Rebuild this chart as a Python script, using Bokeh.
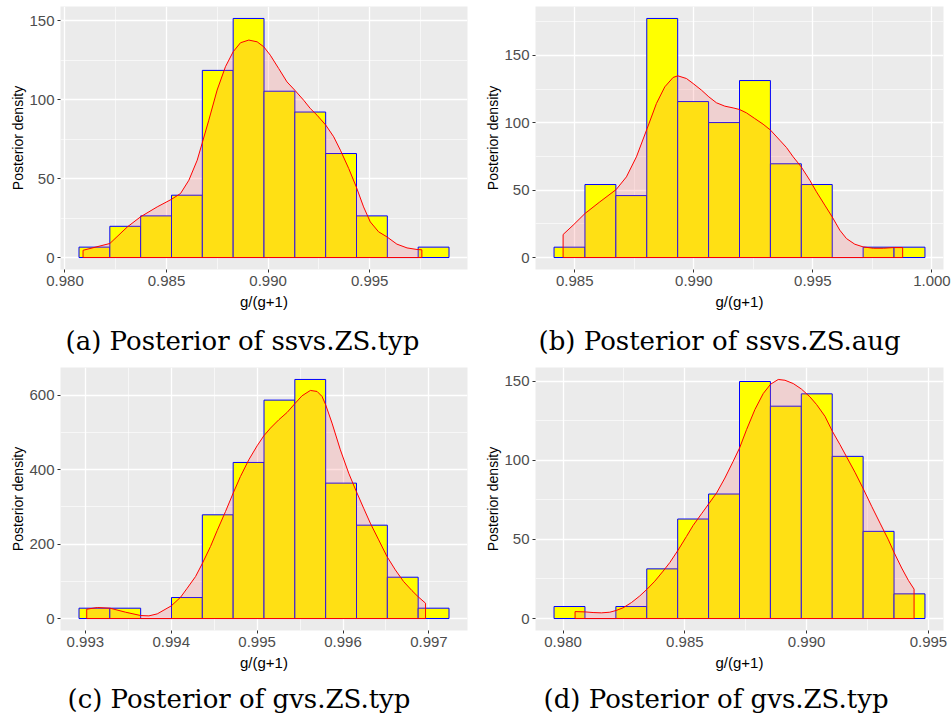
from bokeh.plotting import figure
from bokeh.models import Range1d, FixedTicker, NumeralTickFormatter, Title
from bokeh.layouts import row, column
from bokeh.embed import file_html
from bokeh.resources import INLINE

# ---------------- data ----------------
# (a) ssvs.ZS.typ
a_bin_start = 0.98069
a_bin_width = 0.001518
a_hist = [6.6, 19.8, 26.4, 39.5, 118.6, 151.5, 105.4, 92.2, 65.9, 26.4, 0.0, 6.6]
a_dens_x = [0.98089, 0.98221, 0.98307, 0.98372, 0.98454, 0.98523, 0.98569, 0.98610, 0.98651, 0.98675,
            0.98708, 0.98749, 0.98790, 0.98828, 0.98864, 0.98905, 0.98946, 0.98979, 0.99011, 0.99052,
            0.99093, 0.99131, 0.99175, 0.99208, 0.99241, 0.99284, 0.99323, 0.99356, 0.99397, 0.99434,
            0.99470, 0.99503, 0.99544, 0.99585, 0.99634, 0.99684, 0.99733, 0.99757]
a_dens_y = [4.6, 8.9, 19.4, 25.8, 32.1, 36.8, 40.6, 49.0, 61.7, 72.3,
            87.0, 106.1, 120.9, 130.4, 136.1, 137.8, 136.7, 133.5, 128.2, 119.8,
            111.3, 106.1, 99.7, 94.4, 90.2, 83.9, 76.5, 68.0, 56.4, 44.8,
            32.1, 22.6, 16.3, 13.1, 8.5, 6.1, 5.1, 4.9]
a_xticks = [0.980, 0.985, 0.990, 0.995]
a_yticks = [0, 50, 100, 150]
a_caption = "(a) Posterior of ssvs.ZS.typ"

# (b) ssvs.ZS.aug
b_bin_start = 0.98413
b_bin_width = 0.001298
b_hist = [7.7, 54.2, 46.0, 177.5, 115.8, 100.2, 131.4, 69.6, 54.2, 0.0, 7.7, 7.7]
b_dens_x = [0.98451, 0.98493, 0.98543, 0.98605, 0.98674, 0.98717, 0.98759, 0.98804, 0.98843, 0.98878,
            0.98913, 0.98933, 0.98969, 0.98997, 0.99032, 0.99063, 0.99095, 0.99130, 0.99165, 0.99192,
            0.99221, 0.99256, 0.99291, 0.99322, 0.99361, 0.99389, 0.99417, 0.99451, 0.99487, 0.99515,
            0.99550, 0.99581, 0.99613, 0.99641, 0.99676, 0.99711, 0.99754, 0.99796, 0.99838, 0.99877]
b_dens_y = [17.1, 24.0, 32.7, 41.3, 50.5, 59.9, 74.8, 95.8, 114.4, 126.7,
            133.7, 134.9, 132.9, 129.2, 124.3, 119.3, 114.9, 112.4, 111.1, 109.9,
            107.4, 103.2, 99.0, 94.6, 87.1, 81.7, 74.8, 67.3, 57.4, 48.8,
            38.9, 30.2, 20.3, 14.1, 9.9, 7.9, 6.9, 6.9, 7.4, 7.4]
b_xticks = [0.985, 0.990, 0.995, 1.000]
b_yticks = [0, 50, 100, 150]
b_caption = "(b) Posterior of ssvs.ZS.aug"

# (c) gvs.ZS.typ
c_bin_start = 0.992926
c_bin_width = 0.000359
c_hist = [27.8, 27.8, 0.0, 56.4, 278.5, 419.1, 586.5, 642.0, 363.6, 250.7, 111.0, 27.8]
c_dens_x = [0.993016, 0.993140, 0.993287, 0.993469, 0.993643, 0.993740, 0.993837, 0.994000, 0.994109, 0.994186,
            0.994283, 0.994360, 0.994457, 0.994535, 0.994632, 0.994721, 0.994806, 0.994903, 0.995000, 0.995078,
            0.995155, 0.995252, 0.995349, 0.995438, 0.995523, 0.995620, 0.995698, 0.995756, 0.995798, 0.995872,
            0.995969, 0.996066, 0.996155, 0.996240, 0.996318, 0.996415, 0.996512, 0.996609, 0.996705, 0.996802,
            0.996872, 0.996961]
c_dens_y = [25.1, 29.6, 27.8, 17.0, 8.1, 7.2, 12.5, 34.0, 57.3, 81.5,
            112.8, 146.9, 193.4, 236.4, 287.5, 336.7, 381.5, 426.3, 463.9, 490.7,
            511.3, 533.7, 553.4, 576.7, 598.2, 612.5, 609.8, 596.4, 574.0, 524.8,
            453.1, 390.4, 341.2, 296.4, 256.1, 211.3, 166.6, 130.7, 99.4, 75.2,
            59.1, 41.2]
c_xticks = [0.993, 0.994, 0.995, 0.996, 0.997]
c_yticks = [0, 200, 400, 600]
c_caption = "(c) Posterior of gvs.ZS.typ"

# (d) gvs.ZS.typ
d_bin_start = 0.97963
d_bin_width = 0.001269
d_hist = [7.6, 0.0, 7.6, 31.4, 62.9, 78.7, 149.8, 134.2, 142.0, 102.5, 55.1, 15.6]
d_dens_x = [0.980493, 0.980904, 0.981233, 0.981575, 0.981918, 0.982178, 0.982466, 0.982808, 0.983151, 0.983452,
            0.983767, 0.984110, 0.984384, 0.984712, 0.985068, 0.985342, 0.985685, 0.985986, 0.986301, 0.986644,
            0.986986, 0.987247, 0.987534, 0.987877, 0.988219, 0.988521, 0.988836, 0.989110, 0.989452, 0.989781,
            0.990137, 0.990411, 0.990753, 0.991055, 0.991370, 0.991644, 0.991986, 0.992329, 0.992671, 0.993014,
            0.993356, 0.993589, 0.993904, 0.994178, 0.994411]
d_dens_y = [4.4, 4.2, 3.8, 3.6, 4.0, 5.1, 6.8, 10.1, 14.3, 18.6,
            23.6, 30.0, 35.4, 43.0, 51.9, 58.9, 66.2, 72.6, 79.3, 88.8,
            99.4, 107.8, 119.4, 132.1, 142.2, 148.1, 151.1, 150.6, 148.5, 145.1,
            140.1, 135.2, 127.8, 118.4, 109.9, 102.1, 92.4, 81.9, 70.9, 60.3,
            49.8, 41.8, 31.9, 24.1, 18.6]
d_xticks = [0.980, 0.985, 0.990, 0.995]
d_yticks = [0, 50, 100, 150]
d_caption = "(d) Posterior of gvs.ZS.typ"

x_label = "g/(g+1)"
y_label = "Posterior density"

# ---------------- styling ----------------
PANEL_BG = "#EBEBEB"
SANS = "Liberation Sans"
SERIF = "DejaVu Serif"


def midpoints(ticks):
    step = ticks[1] - ticks[0]
    return [ticks[0] - step / 2] + [t + step / 2 for t in ticks]


def panel(bin_start, bin_width, hist, dx, dy, xticks, yticks, caption,
          fw, fh, bl, br, bt, bb, cap_x, cap_standoff):
    lefts = [bin_start + i * bin_width for i in range(len(hist))]
    rights = [l + bin_width for l in lefts]
    xmin, xmax = lefts[0], rights[-1]
    xpad = (xmax - xmin) * 0.05
    ymax = max(max(hist), max(dy))
    ypad = ymax * 0.05

    p = figure(frame_width=fw, frame_height=fh, output_backend="svg", toolbar_location=None,
               x_range=Range1d(xmin - xpad, xmax + xpad),
               y_range=Range1d(-ypad, ymax + ypad),
               min_border_left=bl, min_border_right=br,
               min_border_top=bt, min_border_bottom=bb)
    p.background_fill_color = PANEL_BG
    p.border_fill_color = "white"
    p.outline_line_color = None

    p.xaxis.ticker = FixedTicker(ticks=xticks, minor_ticks=midpoints(xticks))
    p.yaxis.ticker = FixedTicker(ticks=yticks, minor_ticks=midpoints(yticks))
    p.xaxis.formatter = NumeralTickFormatter(format="0.000")

    for ax in (p.xaxis[0], p.yaxis[0]):
        ax.axis_line_color = None
        ax.major_tick_line_color = "#333333"
        ax.major_tick_in = 0
        ax.major_tick_out = 3
        ax.minor_tick_line_color = None
        ax.major_label_text_color = "#4D4D4D"
        ax.major_label_text_font = SANS
        ax.major_label_text_font_size = "15px"
        ax.major_label_standoff = 2
        ax.axis_label_text_font = SANS
        ax.axis_label_text_font_style = "normal"
        ax.axis_label_text_color = "black"
    p.xaxis.axis_label_standoff = 4
    p.yaxis.axis_label_standoff = 0
    p.xaxis.axis_label_text_font_size = "15px"
    p.yaxis.axis_label_text_font_size = "14px"
    p.xaxis.axis_label = x_label
    p.yaxis.axis_label = y_label

    for g in (p.xgrid[0], p.ygrid[0]):
        g.grid_line_color = "white"
        g.grid_line_width = 1.3
        g.minor_grid_line_color = "white"
        g.minor_grid_line_width = 0.6

    p.quad(left=lefts, right=rights, top=hist, bottom=0,
           fill_color="#FFFF00", line_color="#0000FF", line_width=1)

    px = [dx[0]] + list(dx) + [dx[-1], dx[0]]
    py = [0] + list(dy) + [0, 0]
    p.patch(px, py, fill_color="#FF6666", fill_alpha=0.2,
            line_color="#FF0000", line_width=1)

    p.add_layout(Title(text=caption, align="left", offset=cap_x, standoff=cap_standoff,
                       text_font=SERIF, text_font_size="26px",
                       text_font_style="normal", text_color="black"), "below")
    return p


pa = panel(a_bin_start, a_bin_width, a_hist, a_dens_x, a_dens_y, a_xticks, a_yticks, a_caption,
           407, 263, 60, 9, 6, 91, 5, 23)
pb = panel(b_bin_start, b_bin_width, b_hist, b_dens_x, b_dens_y, b_xticks, b_yticks, b_caption,
           408, 263, 59, 9, 6, 91, 3, 23)
pc = panel(c_bin_start, c_bin_width, c_hist, c_dens_x, c_dens_y, c_xticks, c_yticks, c_caption,
           407, 263, 60, 9, 0, 88, 7, 17)
pd = panel(d_bin_start, d_bin_width, d_hist, d_dens_x, d_dens_y, d_xticks, d_yticks, d_caption,
           408, 263, 59, 9, 0, 88, 8, 17)

layout = column(row(pa, pb), row(pc, pd))
open("out.html", "w").write(file_html(layout, INLINE))
